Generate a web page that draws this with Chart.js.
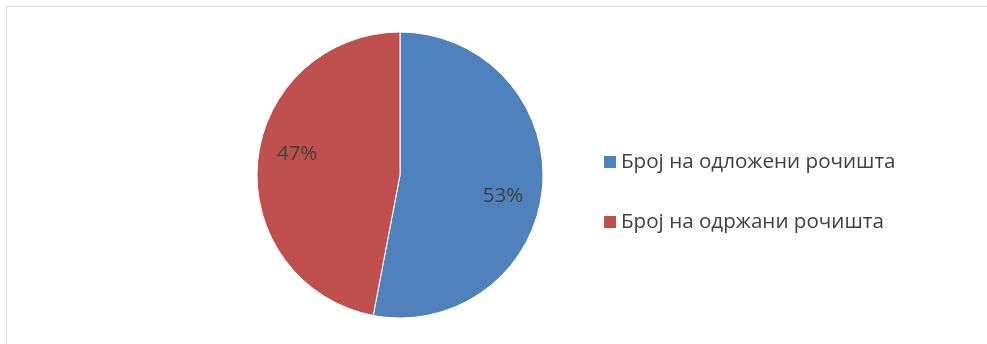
<!DOCTYPE html>
<html>
<head>
<meta charset="utf-8">
<script src="https://cdn.jsdelivr.net/npm/chart.js@4"></script>
<style>
  html, body { margin: 0; padding: 0; background: #ffffff; }
  #wrap { position: relative; width: 987px; height: 344px; overflow: hidden; }
  #frame { position: absolute; left: 6px; top: 6px; width: 990px; height: 350px;
           border-top: 1px solid #d9d9d9; border-left: 1px solid #d9d9d9; box-sizing: border-box; }
  canvas { position: absolute; left: 0; top: 0; }
</style>
</head>
<body>
<div id="wrap">
  <div id="frame"></div>
  <canvas id="c" width="987" height="344"></canvas>
</div>
<script>
// Hearings: postponed vs. held (shares in percent)
const categories = ['Број на одложени рочишта', 'Број на одржани рочишта'];
const shares = [53, 47];
const sliceColors = ['#4F81BD', '#C0504D'];

const FONT = '"Open Sans", "Liberation Sans", sans-serif';
const TEXT_COLOR = '#404040';

// Percentage labels inside each slice
const sliceLabels = {
  id: 'sliceLabels',
  afterDatasetsDraw(chart) {
    const ctx = chart.ctx;
    const meta = chart.getDatasetMeta(0);
    const data = chart.data.datasets[0].data;
    const total = data.reduce((a, b) => a + b, 0);
    ctx.save();
    ctx.font = '20.5px ' + FONT;
    ctx.fillStyle = TEXT_COLOR;
    ctx.textAlign = 'center';
    ctx.textBaseline = 'middle';
    meta.data.forEach((arc, i) => {
      const p = arc.getProps(['x', 'y', 'startAngle', 'endAngle', 'outerRadius'], true);
      const mid = (p.startAngle + p.endAngle) / 2 + 0.105;
      const r = p.outerRadius * 0.734;
      const pct = Math.round(data[i] / total * 100) + '%';
      ctx.fillText(pct, p.x + Math.cos(mid) * r, p.y + Math.sin(mid) * r);
    });
    ctx.restore();
  }
};

// Legend drawn to the right of the pie
const sideLegend = {
  id: 'sideLegend',
  afterDraw(chart) {
    const ctx = chart.ctx;
    const colors = chart.data.datasets[0].backgroundColor;
    const x0 = 604, y0 = 162, step = 60, box = 12;
    ctx.save();
    ctx.font = '20.6px ' + FONT;
    ctx.textBaseline = 'middle';
    chart.data.labels.forEach((lbl, i) => {
      const y = y0 + i * step;
      ctx.fillStyle = colors[i];
      ctx.fillRect(x0, y - box / 2, box, box);
      ctx.fillStyle = TEXT_COLOR;
      ctx.fillText(lbl, x0 + box + 5, y);
    });
    ctx.restore();
  }
};

new Chart(document.getElementById('c'), {
  type: 'pie',
  data: {
    labels: categories,
    datasets: [{
      data: shares,
      backgroundColor: sliceColors,
      borderColor: '#ffffff',
      borderWidth: 1,
      radius: 143
    }]
  },
  options: {
    responsive: false,
    animation: false,
    layout: { padding: { left: 257, right: 444, top: 32, bottom: 26 } },
    plugins: {
      legend: { display: false },
      tooltip: { enabled: false }
    }
  },
  plugins: [sliceLabels, sideLegend]
});
</script>
</body>
</html>
